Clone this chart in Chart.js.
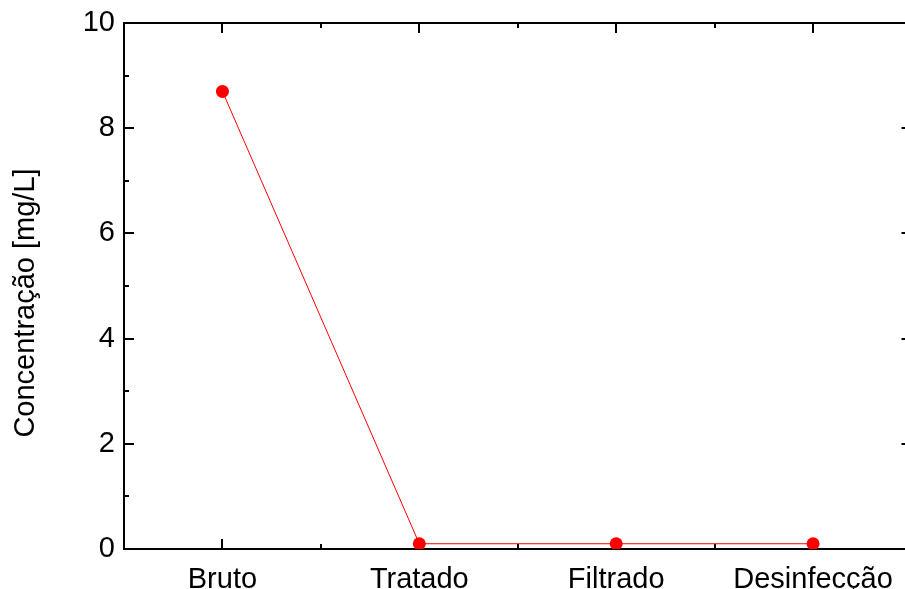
<!DOCTYPE html>
<html lang="pt">
<head>
<meta charset="utf-8">
<title>Concentração</title>
<script src="https://cdn.jsdelivr.net/npm/chart.js@4.4.1/dist/chart.umd.min.js"></script>
<style>
  html, body { margin: 0; padding: 0; background: #fff; overflow: hidden; }
  #holder { width: 918px; height: 589px; }
</style>
</head>
<body>
<div id="holder"><canvas id="chart" width="918" height="589"></canvas></div>
<script>
// etapas do tratamento e concentração medida
const etapas = ['Bruto', 'Tratado', 'Filtrado', 'Desinfecção'];
const concentracao = [8.7, 0.1, 0.1, 0.1];
const yTicks = [0, 2, 4, 6, 8, 10];
const yMinor = [1, 3, 5, 7, 9];
const yTitulo = 'Concentração [mg/L]';

const FONT = { family: '"Liberation Sans", Arial, sans-serif', size: 29 };

// moldura com marcas voltadas para dentro nos quatro lados
const frame = {
  id: 'frame',
  beforeDatasetsDraw(chart) {
    const { ctx, chartArea: a, scales: { x, y } } = chart;
    ctx.save();
    ctx.strokeStyle = '#000';
    ctx.lineWidth = 2;
    ctx.beginPath();
    ctx.rect(a.left, a.top, a.right - a.left, a.bottom - a.top);
    ctx.stroke();
    ctx.beginPath();
    const yMark = (v, len) => {
      const py = Math.round(y.getPixelForValue(v));
      ctx.moveTo(a.left, py); ctx.lineTo(a.left + len, py);
      ctx.moveTo(a.right, py); ctx.lineTo(a.right - len, py);
    };
    yTicks.forEach(v => yMark(v, 10));
    yMinor.forEach(v => yMark(v, 5));
    const xMark = (px, len) => {
      px = Math.round(px);
      ctx.moveTo(px, a.top); ctx.lineTo(px, a.top + len);
      ctx.moveTo(px, a.bottom); ctx.lineTo(px, a.bottom - len);
    };
    etapas.forEach((_, i) => xMark(x.getPixelForValue(i), 10));
    for (let i = 1; i < etapas.length; i++) {
      xMark((x.getPixelForValue(i - 1) + x.getPixelForValue(i)) / 2, 5);
    }
    ctx.stroke();

    // título do eixo y, um pouco abaixo do centro
    ctx.translate(26, (a.top + a.bottom) / 2 + 17);
    ctx.rotate(-Math.PI / 2);
    ctx.fillStyle = '#000';
    ctx.font = `${FONT.size}px ${FONT.family}`;
    ctx.textAlign = 'center';
    ctx.textBaseline = 'middle';
    ctx.fillText(yTitulo, 0, 0);
    ctx.restore();
  }
};

new Chart(document.getElementById('chart'), {
  type: 'line',
  data: {
    labels: etapas,
    datasets: [{
      data: concentracao,
      borderColor: '#ff0000',
      borderWidth: 1,
      backgroundColor: '#ff0000',
      pointBackgroundColor: '#ff0000',
      pointBorderWidth: 0,
      pointRadius: 6.5,
      tension: 0
    }]
  },
  options: {
    responsive: false,
    devicePixelRatio: 1,
    animation: false,
    layout: { padding: { top: 23, right: 2, left: 0, bottom: 0 } },
    plugins: { legend: { display: false }, tooltip: { enabled: false } },
    scales: {
      x: {
        offset: true,
        grid: { display: false, drawTicks: false },
        border: { display: false },
        ticks: { color: '#000', font: FONT, padding: 14, maxRotation: 0 },
        afterFit(s) { s.height = 40; s.paddingLeft = 0; s.paddingRight = 0; }
      },
      y: {
        min: 0,
        max: 10,
        grid: { display: false, drawTicks: false },
        border: { display: false },
        ticks: { color: '#000', font: FONT, padding: 9, stepSize: 2 },
        afterFit(s) { s.width = 124; s.paddingTop = 0; s.paddingBottom = 0; }
      }
    }
  },
  plugins: [frame]
});
</script>
</body>
</html>
